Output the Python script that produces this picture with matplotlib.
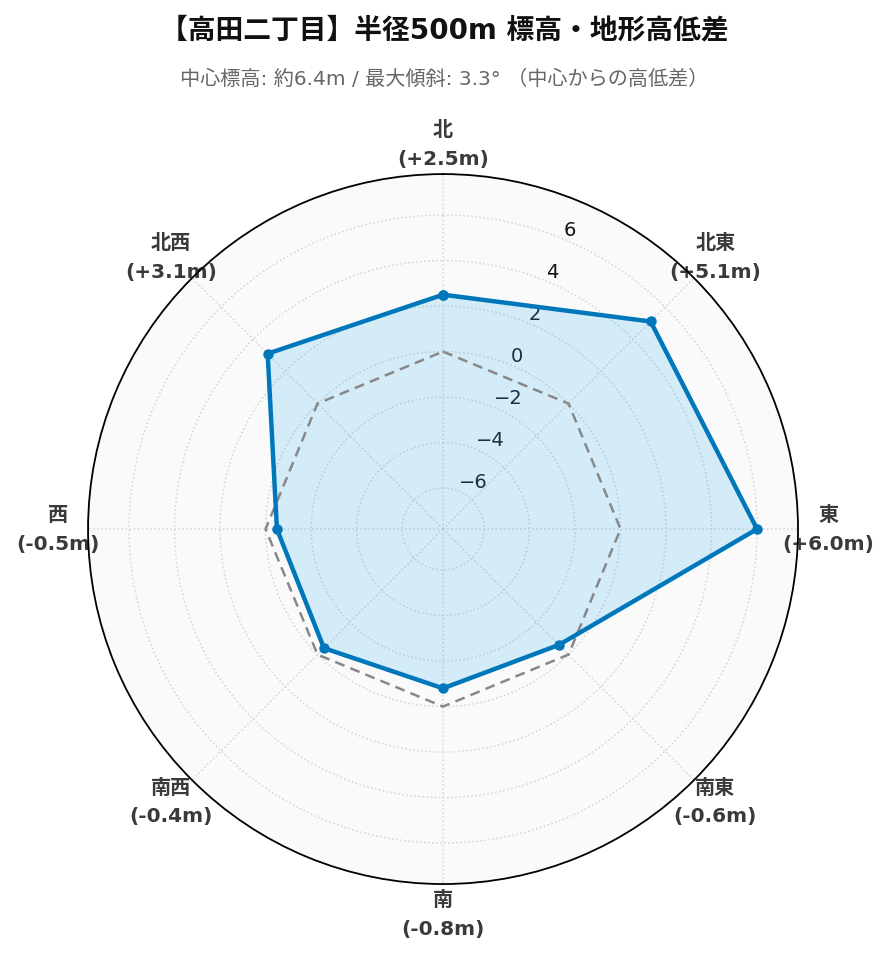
import numpy as np
import matplotlib
matplotlib.use("Agg")
import matplotlib.pyplot as plt

plt.rcParams['font.family'] = ['DejaVu Sans', 'Noto Sans CJK JP']

directions = ['北', '北東', '東', '南東', '南', '南西', '西', '北西']
values = [2.5, 5.1, 6.0, -0.6, -0.8, -0.4, -0.5, 3.1]
baseline = [0, 0, 0, 0, 0, 0, 0, 0]
r_ticks = [-6, -4, -2, 0, 2, 4, 6]
r_limit = 7.8

title = '【高田二丁目】半径500m 標高・地形高低差'
subtitle = '中心標高: 約6.4m / 最大傾斜: 3.3° （中心からの高低差）'

labels = [f'{d}\n({v:+.1f}m)' for d, v in zip(directions, values)]

fig = plt.figure(figsize=(8.89, 9.62), dpi=100)
ax = fig.add_axes([0.099, 0.080, 0.7987, 0.738], projection='polar')
ax.set_theta_offset(np.pi / 2)
ax.set_theta_direction(-1)
ax.set_facecolor('#fafafa')

angles = np.linspace(0, 2 * np.pi, len(directions), endpoint=False)
ang_c = np.concatenate([angles, angles[:1]])
val_c = np.concatenate([values, values[:1]])
base_c = np.concatenate([baseline, baseline[:1]])

ax.set_ylim(-r_limit, r_limit)
ax.fill(ang_c, val_c, color='#3cb4f0', alpha=0.2, zorder=2)
ax.plot(ang_c, base_c, color='#888888', linestyle=(0, (4, 2.5)), linewidth=1.8, zorder=3)
ax.plot(ang_c, val_c, color='#0077bb', linewidth=3.2, marker='o', markersize=6.5, zorder=4)

ax.set_xticks(angles)
ax.set_xticklabels([])
for a, lab in zip(angles, labels):
    rr = 0.5 * 1.085
    ax.text(0.5 + rr * np.sin(a), 0.5 + rr * np.cos(a), lab, transform=ax.transAxes,
            ha='center', va='center', fontsize=14.5, fontweight='bold', color='#3a3a3a',
            linespacing=1.65, zorder=1)

ax.set_yticks(r_ticks)
ax.set_yticklabels([f'{t}'.replace('-', '\u2212') for t in r_ticks], fontsize=14, color='#111111')
ax.set_rlabel_position(22.5)

ax.grid(True, color='#d4d4d4', linestyle=':', linewidth=1.1)
ax.spines['polar'].set_color('black')
ax.spines['polar'].set_linewidth(1.3)
ax.spines['polar'].set_zorder(5)

fig.text(0.5, 0.968, title, ha='center', va='center', fontsize=20, fontweight='bold',
         color='#111111')
fig.text(0.5, 0.918, subtitle, ha='center', va='center', fontsize=14.5,
         color='#666666')

fig.savefig('out.png', dpi=100)
